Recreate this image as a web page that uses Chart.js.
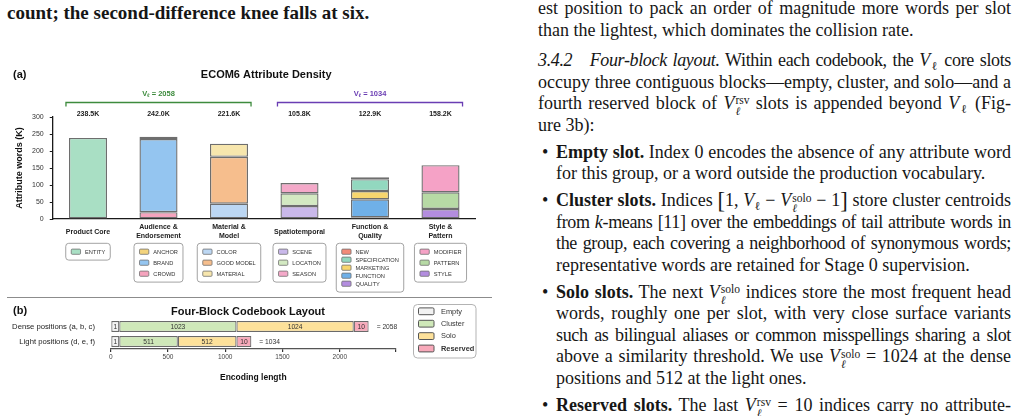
<!DOCTYPE html>
<html>
<head>
<meta charset="utf-8">
<script src="https://cdn.jsdelivr.net/npm/chart.js@4.4.0/dist/chart.umd.min.js"></script>
<style>
  html, body { margin: 0; padding: 0; background: #fff; }
  body { width: 1024px; height: 416px; position: relative; overflow: hidden; font-family: "Liberation Serif", serif; color: #161616; }
  canvas { position: absolute; left: 0; }
  #densityChart { top: 60px; }
  #layoutChart { top: 300px; }
  .rule { position: absolute; left: 7px; top: 297px; width: 485px; height: 1px; background: #8c8c8c; }
  .head { position: absolute; left: 7px; top: 3px; font-weight: bold; font-size: 19px; line-height: 20px; white-space: nowrap; }
  .ln { position: absolute; left: 538px; width: 473px; font-size: 18px; line-height: 20px; white-space: nowrap; }
  .ln.in { left: 556px; width: 455px; }
  .j { text-align: justify; text-align-last: justify; white-space: normal; height: 20px; }
  .t { letter-spacing: -0.35px; }
  .dot { position: absolute; left: 542px; font-size: 18px; line-height: 20px; }
  sub.s { font-size: 0.66em; vertical-align: -0.3em; line-height: 0; }
  .st { display: inline-block; vertical-align: -0.5em; font-size: 0.64em; line-height: 0.9; margin-left: 1px; }
  .st span { display: block; }
  .bk { font-size: 1.25em; line-height: 0; vertical-align: -0.08em; }
</style>
</head>
<body>
<canvas id="densityChart" width="500" height="237"></canvas>
<div class="rule"></div>
<canvas id="layoutChart" width="500" height="116"></canvas>

<div class="head">count; the second-difference knee falls at six.</div>

<div class="ln j" style="top:-2px">est position to pack an order of magnitude more words per slot</div>
<div class="ln" style="top:19.5px">than the lightest, which dominates the collision rate.</div>
<div class="ln j t" style="top:50px"><i>3.4.2</i>&nbsp;&nbsp; <i>Four-block layout.</i> Within each codebook, the <i>V</i><sub class="s">ℓ</sub> core slots</div>
<div class="ln j" style="top:71.5px">occupy three contiguous blocks—empty, cluster, and solo—and a</div>
<div class="ln j" style="top:93px">fourth reserved block of <i>V</i><span class="st"><span>rsv</span><span><i>ℓ</i></span></span> slots is appended beyond <i>V</i><sub class="s">ℓ</sub> (Fig-</div>
<div class="ln" style="top:114.5px">ure 3b):</div>

<div class="dot" style="top:141.6px">•</div>
<div class="ln in j" style="top:141.6px"><b>Empty slot.</b> Index 0 encodes the absence of any attribute word</div>
<div class="ln in" style="top:163.1px">for this group, or a word outside the production vocabulary.</div>

<div class="dot" style="top:190.2px">•</div>
<div class="ln in j" style="top:190.2px"><b>Cluster slots.</b> Indices <span class="bk">[</span>1, <i>V</i><sub class="s">ℓ</sub> − <i>V</i><span class="st"><span>solo</span><span><i>ℓ</i></span></span> − 1<span class="bk">]</span> store cluster centroids</div>
<div class="ln in j t" style="top:211.7px">from <i>k</i>-means [11] over the embeddings of tail attribute words in</div>
<div class="ln in j t" style="top:233.2px">the group, each covering a neighborhood of synonymous words;</div>
<div class="ln in" style="top:254.7px">representative words are retained for Stage 0 supervision.</div>

<div class="dot" style="top:281.8px">•</div>
<div class="ln in j" style="top:281.8px"><b>Solo slots.</b> The next <i>V</i><span class="st"><span>solo</span><span><i>ℓ</i></span></span> indices store the most frequent head</div>
<div class="ln in j" style="top:303.3px">words, roughly one per slot, with very close surface variants</div>
<div class="ln in j t" style="top:324.8px">such as bilingual aliases or common misspellings sharing a slot</div>
<div class="ln in j" style="top:346.3px">above a similarity threshold. We use <i>V</i><span class="st"><span>solo</span><span><i>ℓ</i></span></span> = 1024 at the dense</div>
<div class="ln in" style="top:367.8px">positions and 512 at the light ones.</div>

<div class="dot" style="top:394.9px">•</div>
<div class="ln in j" style="top:394.9px"><b>Reserved slots.</b> The last <i>V</i><span class="st"><span>rsv</span><span><i>ℓ</i></span></span> = 10 indices carry no attribute-</div>

<script>
Chart.defaults.font.family = '"Liberation Sans", Arial, sans-serif';
Chart.defaults.color = '#222';

// (a) attribute density per group, in thousands of words
const categories = [['Product Core'], ['Audience &', 'Endorsement'], ['Material &', 'Model'], ['Spatiotemporal'], ['Function &', 'Quality'], ['Style &', 'Pattern']];
const totals = [238.5, 242.0, 221.6, 105.8, 122.9, 158.2];

// stacked bottom -> top inside each group
const segLabels = ['ENTITY', 'CROWD', 'BRAND', 'ANCHOR', 'COLOR', 'GOOD MODEL', 'MATERIAL', 'SCENE', 'LOCATION', 'SEASON', 'QUALITY', 'FUNCTION', 'MARKETING', 'SPECIFICATION', 'NEW', 'STYLE', 'PATTERN', 'MODIFIER'];
const segGroup = [0, 1, 1, 1, 2, 2, 2, 3, 3, 3, 4, 4, 4, 4, 4, 5, 5, 5];
const segValues = [238.5, 20, 215, 7, 45, 138, 38.6, 38, 37.5, 30.3, 5, 53, 24, 35, 5.9, 29.4, 49.1, 79.7];
const segColors = ['#a9dfc4', '#f5a3bd', '#94c5f0', '#f3d37c', '#bcd7f3', '#f6be8d', '#f7e6ad', '#c9b8ea', '#d3e9c2', '#f4a9c9', '#b38ddf', '#6fb0e8', '#f7d56e', '#92d8bf', '#f28a78', '#b38ddf', '#b7daa5', '#f5a2c6'];

// order of the entries in each little legend box
const legendOrder = [['ENTITY'], ['ANCHOR', 'BRAND', 'CROWD'], ['COLOR', 'GOOD MODEL', 'MATERIAL'], ['SCENE', 'LOCATION', 'SEASON'], ['NEW', 'SPECIFICATION', 'MARKETING', 'FUNCTION', 'QUALITY'], ['MODIFIER', 'PATTERN', 'STYLE']];

const bracketSpans = [[0, 2], [3, 5]];
const bracketValues = [2058, 1034];
const bracketColors = ['#3d8b3d', '#6a3db3'];

// (b) four-block codebook layout
const layoutRows = ['Dense positions (a, b, c)', 'Light positions (d, e, f)'];
const blockNames = ['Empty', 'Cluster', 'Solo', 'Reserved'];
const denseBlocks = [1, 1023, 1024, 10];
const lightBlocks = [1, 511, 512, 10];
const blockMinDrawn = [75, 0, 0, 130]; // tiny blocks are drawn wider so their number fits
const blockColors = ['#f2f2f2', '#cfe8b9', '#fde19a', '#f8a9ba'];
const lengthTicks = [0, 500, 1000, 1500, 2000];

function roundRect(ctx, x, y, w, h, r) {
  ctx.beginPath();
  ctx.moveTo(x + r, y);
  ctx.arcTo(x + w, y, x + w, y + h, r);
  ctx.arcTo(x + w, y + h, x, y + h, r);
  ctx.arcTo(x, y + h, x, y, r);
  ctx.arcTo(x, y, x + w, y, r);
  ctx.closePath();
}

// ---------- chart (a) ----------
const densityDecor = {
  id: 'densityDecor',
  afterDraw(chart) {
    const ctx = chart.ctx;
    const x = chart.scales.x;
    const band = (x.right - x.left) / categories.length;
    const barW = band * 0.54;
    ctx.save();
    ctx.textAlign = 'left';
    ctx.textBaseline = 'middle';
    ctx.fillStyle = '#111';
    ctx.font = 'bold 11px "Liberation Sans"';
    ctx.fillText('(a)', 13, 15);
    ctx.textAlign = 'center';
    ctx.fillText('ECOM6 Attribute Density', (x.left + x.right) / 2 + 2, 15);

    // totals above the bars
    ctx.font = 'bold 7px "Liberation Sans"';
    ctx.fillStyle = '#222';
    totals.forEach((t, i) => ctx.fillText(t.toFixed(1) + 'K', x.getPixelForValue(i), 54.5));

    // group brackets
    bracketSpans.forEach((span, k) => {
      const x0 = x.getPixelForValue(span[0]) - barW / 2 - 3;
      const x1 = x.getPixelForValue(span[1]) + barW / 2 + 3;
      const y = 42.5;
      ctx.strokeStyle = bracketColors[k];
      ctx.lineWidth = 1.3;
      ctx.beginPath();
      ctx.moveTo(x0, y + 4); ctx.lineTo(x0, y); ctx.lineTo(x1, y); ctx.lineTo(x1, y + 4);
      ctx.stroke();
      ctx.fillStyle = bracketColors[k];
      const cx = (x0 + x1) / 2;
      ctx.font = 'bold 7.5px "Liberation Sans"';
      const rest = ' = ' + bracketValues[k];
      const wV = ctx.measureText('V').width;
      ctx.font = 'bold 5px "Liberation Sans"';
      const wS = ctx.measureText('ℓ').width;
      ctx.font = 'bold 7.5px "Liberation Sans"';
      const wR = ctx.measureText(rest).width;
      let sx = cx - (wV + wS + wR) / 2;
      ctx.textAlign = 'left';
      ctx.fillText('V', sx, 33.5);
      ctx.font = 'bold 5px "Liberation Sans"';
      ctx.fillText('ℓ', sx + wV, 35.5);
      ctx.font = 'bold 7.5px "Liberation Sans"';
      ctx.fillText(rest, sx + wV + wS, 33.5);
    });

    // per-group legend boxes
    ctx.font = '5.7px "Liberation Sans"';
    legendOrder.forEach((names, c) => {
      const cx = x.getPixelForValue(c);
      const textW = Math.max(...names.map(n => ctx.measureText(n).width));
      const w = 5.5 + 9.3 + 4.5 + textW + 5;
      const gap = names.length > 3 ? 8 : 11;
      const top = 183.3;
      const h = 16.8 + (names.length - 1) * gap;
      const left = cx - w / 2;
      roundRect(ctx, left, top, w, h, 3);
      ctx.fillStyle = '#fff';
      ctx.fill();
      ctx.strokeStyle = '#a3a3a3';
      ctx.lineWidth = 1;
      ctx.stroke();
      names.forEach((n, r) => {
        const cy = top + 8.4 + r * gap;
        const ds = chart.data.datasets.find(d => d.label === n);
        roundRect(ctx, left + 5.5, cy - 2.6, 9.3, 5.2, 1);
        ctx.fillStyle = ds.backgroundColor;
        ctx.fill();
        ctx.strokeStyle = '#707070';
        ctx.lineWidth = 0.8;
        ctx.stroke();
        ctx.fillStyle = '#333';
        ctx.textAlign = 'left';
        ctx.fillText(n, left + 5.5 + 9.3 + 4.5, cy + 0.3);
      });
    });
    ctx.restore();
  }
};

new Chart(document.getElementById('densityChart'), {
  type: 'bar',
  data: {
    labels: categories,
    datasets: segLabels.map((lab, i) => ({
      label: lab,
      data: categories.map((_, c) => (c === segGroup[i] ? segValues[i] : null)),
      backgroundColor: segColors[i],
      borderColor: '#6e6e6e',
      borderWidth: 1.4,
      borderSkipped: false,
      barPercentage: 0.54,
      categoryPercentage: 1
    }))
  },
  options: {
    responsive: false,
    animation: false,
    layout: { padding: { top: 57, left: 0, right: 24.25, bottom: 0 } },
    plugins: { legend: { display: false }, tooltip: { enabled: false } },
    scales: {
      x: {
        stacked: true,
        grid: { display: false, drawTicks: false, tickLength: 0 },
        border: { display: true, color: '#1a1a1a', width: 1.3 },
        ticks: { font: { size: 7, weight: 'bold', lineHeight: 1.33 }, color: '#222', padding: 8, maxRotation: 0, autoSkip: false, crossAlign: 'center' },
        afterFit: s => { s.height = 78; }
      },
      y: {
        stacked: true,
        min: 0,
        max: 300,
        ticks: { stepSize: 50, font: { size: 7 }, color: '#333', padding: 6 },
        grid: { drawOnChartArea: false, drawTicks: true, tickLength: 3, color: '#1a1a1a' },
        border: { display: true, color: '#1a1a1a', width: 1.3 },
        title: { display: true, text: 'Attribute words (K)', font: { size: 9, weight: 'bold' }, color: '#111', padding: { top: 14.6, bottom: 0 } },
        afterFit: s => { s.width = 52.75; }
      }
    }
  },
  plugins: [densityDecor]
});

// ---------- chart (b) ----------
const rowBlocks = [denseBlocks, lightBlocks];

const layoutDecor = {
  id: 'layoutDecor',
  afterDraw(chart) {
    const ctx = chart.ctx;
    ctx.save();
    ctx.fillStyle = '#111';
    ctx.textBaseline = 'middle';
    ctx.textAlign = 'left';
    ctx.font = 'bold 11px "Liberation Sans"';
    ctx.fillText('(b)', 13, 10.5);
    ctx.textAlign = 'center';
    ctx.fillText('Four-Block Codebook Layout', 248, 11.5);

    // numbers inside the blocks and the row totals
    ctx.font = '6.7px "Liberation Sans"';
    ctx.fillStyle = '#333';
    chart.data.datasets.forEach((ds, i) => {
      chart.getDatasetMeta(i).data.forEach((el, r) => {
        ctx.textAlign = 'center';
        ctx.fillText(String(rowBlocks[r][i]), (el.x + el.base) / 2, el.y + 0.5);
        if (i === blockNames.length - 1) {
          const sum = rowBlocks[r].reduce((a, b) => a + b, 0);
          ctx.textAlign = 'left';
          ctx.fillText('= ' + sum, el.x + 8, el.y + 0.5);
        }
      });
    });

    // legend
    roundRect(ctx, 413.5, 4.5, 62.5, 53.5, 4);
    ctx.fillStyle = '#fff';
    ctx.fill();
    ctx.strokeStyle = '#b3b3b3';
    ctx.lineWidth = 1;
    ctx.stroke();
    blockNames.forEach((n, i) => {
      const cy = 11.3 + i * 12.4;
      roundRect(ctx, 418.5, cy - 3.4, 15.5, 6.8, 1.2);
      ctx.fillStyle = blockColors[i];
      ctx.fill();
      ctx.strokeStyle = '#555';
      ctx.lineWidth = 1;
      ctx.stroke();
      ctx.fillStyle = '#333';
      ctx.textAlign = 'left';
      ctx.font = (n === 'Reserved' ? 'bold ' : '') + '7.4px "Liberation Sans"';
      ctx.fillText(n, 441, cy + 0.3);
    });
    ctx.restore();
  }
};

new Chart(document.getElementById('layoutChart'), {
  type: 'bar',
  data: {
    labels: layoutRows,
    datasets: blockNames.map((n, i) => ({
      label: n,
      data: rowBlocks.map(row => Math.max(row[i], blockMinDrawn[i])),
      backgroundColor: blockColors[i],
      borderColor: '#6a6a6a',
      borderWidth: 1.2,
      borderSkipped: false,
      barPercentage: 0.74,
      categoryPercentage: 1
    }))
  },
  options: {
    indexAxis: 'y',
    responsive: false,
    animation: false,
    layout: { padding: { top: 19, left: 0, right: 104.1, bottom: 0 } },
    plugins: { legend: { display: false }, tooltip: { enabled: false } },
    scales: {
      x: {
        stacked: true,
        min: 0,
        max: 2490,
        afterBuildTicks: s => { s.ticks = lengthTicks.concat([2490]).map(v => ({ value: v })); },
        ticks: { font: { size: 6.5 }, color: '#444', padding: 1.5, callback: v => (lengthTicks.includes(v) ? String(v) : '') },
        grid: { drawOnChartArea: false, drawTicks: true, tickLength: 3, color: '#333', lineWidth: 1.2 },
        border: { display: true, color: '#555', width: 1.3 },
        title: { display: true, text: 'Encoding length', font: { size: 8.5, weight: 'bold' }, color: '#111', padding: { top: 0, bottom: 32.9 } },
        afterFit: s => { s.height = 67; }
      },
      y: {
        stacked: true,
        grid: { display: false },
        border: { display: false },
        ticks: { font: { size: 7.7 }, color: '#222', padding: 7.7 },
        afterFit: s => { s.width = 110.7; }
      }
    }
  },
  plugins: [layoutDecor]
});
</script>
</body>
</html>
